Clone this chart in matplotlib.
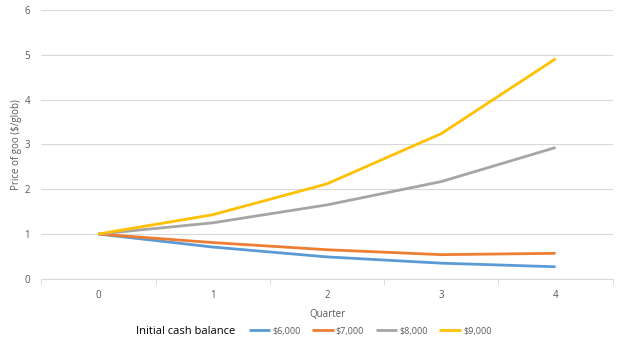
import matplotlib.pyplot as plt

quarters = [0, 1, 2, 3, 4]
p6000 = [1.0, 0.71, 0.49, 0.35, 0.27]
p7000 = [1.0, 0.81, 0.65, 0.54, 0.57]
p8000 = [1.0, 1.25, 1.65, 2.17, 2.93]
p9000 = [1.0, 1.43, 2.12, 3.24, 4.91]
labels = ['$6,000', '$7,000', '$8,000', '$9,000']
colors = ['#5B9BD5', '#ED7D31', '#A5A5A5', '#FFC000']

plt.rcParams['font.family'] = ['Open Sans', 'DejaVu Sans']

fig = plt.figure(figsize=(6.24, 3.53), dpi=100)
ax = fig.add_axes([0.066, 0.21, 0.916, 0.762])

for vals, lab, c in zip([p6000, p7000, p8000, p9000], labels, colors):
    ax.plot(quarters, vals, color=c, lw=2.0, label=lab, solid_capstyle='butt')

ax.set_xlim(-0.5, 4.5)
ax.set_ylim(0, 6)
ax.set_yticks(range(0, 7))
ax.set_xticks(quarters)
ax.set_xticks([-0.5, 0.5, 1.5, 2.5, 3.5, 4.5], minor=True)
ax.grid(axis='y', color='#D9D9D9', lw=0.8)
ax.set_axisbelow(True)
for s in ['top', 'right', 'left']:
    ax.spines[s].set_visible(False)
ax.spines['bottom'].set_color('#D9D9D9')
ax.tick_params(axis='y', length=0, labelsize=7, labelcolor='#595959', pad=8)
ax.tick_params(axis='x', which='major', length=0, labelsize=7, labelcolor='#595959', pad=8)
ax.tick_params(axis='x', which='minor', length=4, color='#D9D9D9')

ax.set_xlabel('Quarter', fontsize=7, color='#595959', labelpad=6)
ax.set_ylabel('Price of goo ($/glob)', fontsize=7, color='#595959', labelpad=2)

fig.text(0.218, 0.062, 'Initial cash balance', fontsize=8, color='black', va='center')
ax.legend(loc='center', bbox_to_anchor=(0.593, 0.062), bbox_transform=fig.transFigure,
          ncol=4, frameon=False, fontsize=6.5, handlelength=2.4, handletextpad=0.2,
          columnspacing=1.3, labelcolor='#595959')

fig.savefig('out.png', dpi=100)
